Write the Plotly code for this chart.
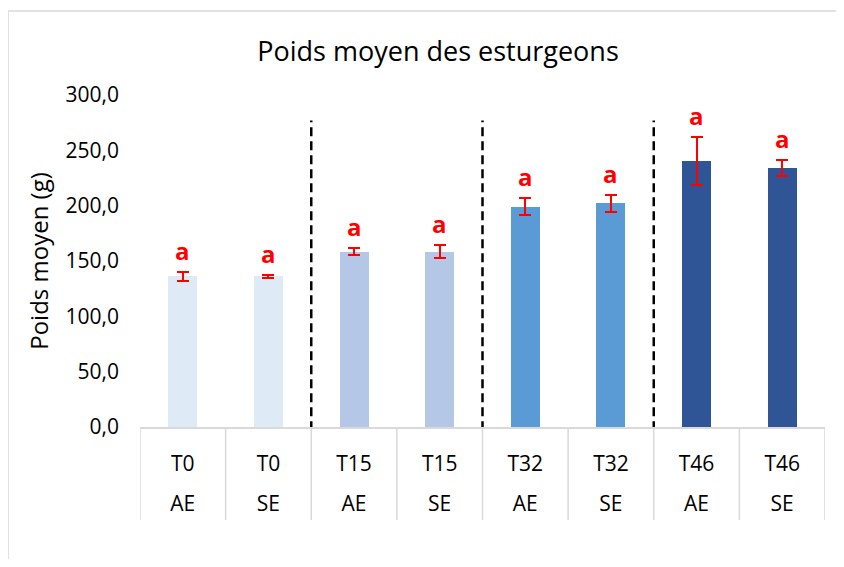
import numpy as np
import plotly.graph_objects as go

# ---- data ----
temps = ["T0", "T0", "T15", "T15", "T32", "T32", "T46", "T46"]
traitement = ["AE", "SE", "AE", "SE", "AE", "SE", "AE", "SE"]
poids_moyen = [136.0, 136.0, 158.5, 158.5, 199.0, 202.0, 240.5, 234.0]
erreur = [4.0, 1.0, 3.0, 6.0, 7.5, 8.0, 22.0, 7.0]
lettres = ["a", "a", "a", "a", "a", "a", "a", "a"]
couleurs_groupes = {"T0": "#DEEAF6", "T15": "#B4C7E7", "T32": "#5B9BD5", "T46": "#2F5597"}
y_ticks = [0, 50, 100, 150, 200, 250, 300]

n = len(temps)
xpos = np.arange(n) + 0.5
colors = [couleurs_groupes[t] for t in temps]

FONT = "Open Sans"
OFF = 8  # page body margin
W, H = 844 - 2 * OFF, 567 - 2 * OFF
L = 140 - OFF
R = W - (825 - OFF)
T = 95 - OFF
B = H - (427 - OFF)
plot_h = H - T - B
plot_w = W - L - R

fig = go.Figure()
fig.add_trace(go.Bar(
    x=xpos, y=poids_moyen, width=0.34,
    marker=dict(color=colors, line=dict(width=0)),
    error_y=dict(type="data", array=erreur, visible=True,
                 color="#FF0000", thickness=2, width=6),
    showlegend=False, hoverinfo="skip",
))
# invisible trace carrying the second row of category labels
fig.add_trace(go.Scatter(x=xpos, y=poids_moyen, xaxis="x2", mode="none",
                         showlegend=False, hoverinfo="skip"))

# significance letters
for xi, v, e, lt in zip(xpos, poids_moyen, erreur, lettres):
    fig.add_annotation(x=xi, y=v + e, text=f"<b>{lt}</b>", showarrow=False,
                       xref="x", yref="y", yanchor="bottom", yshift=3,
                       font=dict(family=FONT, size=24, color="#FF0000"))

shapes = []
# dashed separators between time groups
for xb in [2, 4, 6]:
    shapes.append(dict(type="line", xref="x", yref="y", x0=xb, x1=xb, y0=-3, y1=277,
                       line=dict(color="black", width=2.5, dash="9px,5px")))
# category table vertical lines
table_bottom = -((520 - OFF) - (H - B)) / plot_h
for xb in range(n + 1):
    shapes.append(dict(type="line", xref="x", yref="paper", x0=xb, x1=xb, y0=0, y1=table_bottom,
                       line=dict(color="#D9D9D9", width=1.5)))
# chart outer border
shapes.append(dict(type="rect", xref="paper", yref="paper",
                   x0=(8 - OFF - L) / plot_w, x1=1.2, y0=-0.8,
                   y1=((H - B) - (11 - OFF)) / plot_h,
                   line=dict(color="#D9D9D9", width=1.5), fillcolor="rgba(0,0,0,0)", layer="below"))

fig.update_layout(
    width=W, height=H,
    margin=dict(l=L, r=R, t=T, b=B),
    paper_bgcolor="white", plot_bgcolor="white",
    separators=", ",
    font=dict(family=FONT, size=21, color="black"),
    title=dict(text="Poids moyen des esturgeons", x=(438 - OFF) / W, xanchor="center",
               y=1 - (52 - OFF) / H, yanchor="middle",
               font=dict(family=FONT, size=27, color="black")),
    xaxis=dict(range=[0, n], tickvals=xpos, ticktext=temps, showgrid=False, zeroline=False,
               showline=True, linecolor="#D9D9D9", linewidth=1.5, ticks="",
               ticklabelstandoff=17, tickfont=dict(size=21)),
    xaxis2=dict(range=[0, n], tickvals=xpos, ticktext=traitement, overlaying="x", anchor="y",
                side="bottom", showgrid=False, zeroline=False, showline=False, ticks="",
                ticklabelstandoff=62, tickfont=dict(size=21)),
    yaxis=dict(range=[0, 300], tickvals=y_ticks, tickformat=".1f", showgrid=False,
               zeroline=False, showline=False, ticks="", ticklabelstandoff=20,
               title=dict(text="Poids moyen (g)", standoff=10, font=dict(size=24))),
    shapes=shapes,
    bargap=0,
)

fig.write_html("out.html")
